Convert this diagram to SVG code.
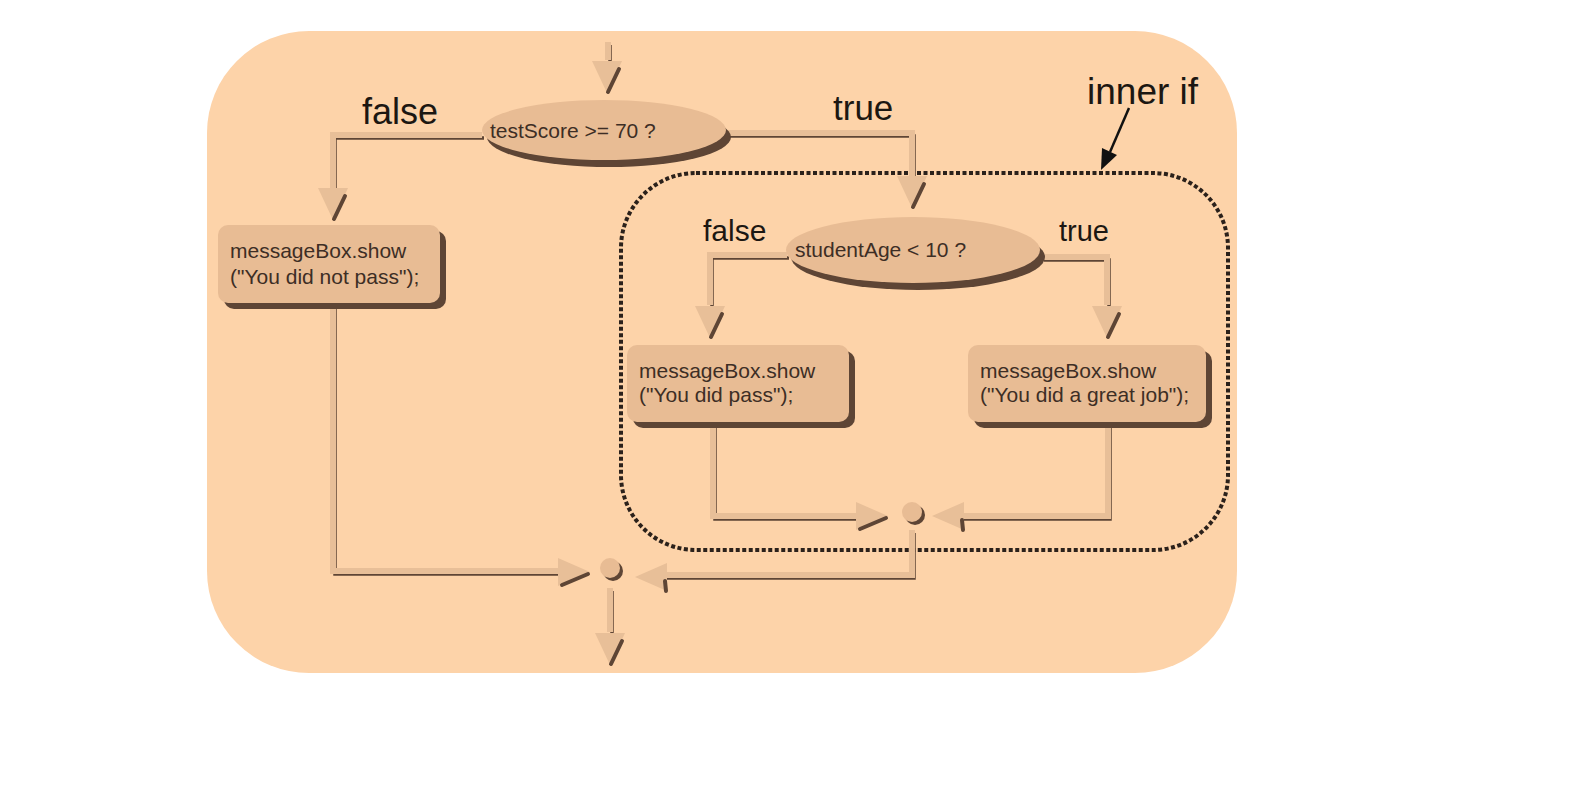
<svg xmlns="http://www.w3.org/2000/svg" xmlns:xlink="http://www.w3.org/1999/xlink" width="1573" height="788" viewBox="0 0 1573 788">
<style>
.lt{fill:none;stroke:#E8BF98;stroke-width:6}
.dk{fill:none;stroke:#5E4535;stroke-width:3.5}
.node{fill:#E8BC94}
.shd{fill:#5E4535}
.code{font-family:"Liberation Sans",Arial,sans-serif;font-size:21px;fill:#3d2e25}
.lbl{font-family:"Liberation Sans",Arial,sans-serif;fill:#1c1712}
.ahl{fill:#E8BF98}
.ahd{fill:none;stroke:#5E4535;stroke-width:4;stroke-linecap:round}
</style>
<defs>
<g id="ad"><polygon class="ahl" points="-15,-32 15,-32 0,0"/><line class="ahd" x1="12" y1="-24" x2="1" y2="-1"/></g>
<g id="ar"><polygon class="ahl" points="-32,-14 -32,14 0,0"/><line class="ahd" x1="-28" y1="13" x2="-2" y2="2"/></g>
<g id="al"><polygon class="ahl" points="32,-14 32,14 0,0"/><line class="ahd" x1="30" y1="4" x2="31" y2="14"/></g>
</defs>
<rect x="0" y="0" width="1573" height="788" fill="#ffffff"/>
<rect x="207" y="31" width="1030" height="642" rx="102" fill="#FDD3A9"/>
<g id="inner-if">
<rect x="621" y="173" width="607" height="377" rx="75" fill="none" stroke="#2b211b" stroke-width="4" stroke-dasharray="4 2.5"/>
</g>
<g id="connectors">
<g transform="translate(2,3)">
<path class="dk" d="M608 42 V60"/>
<path class="dk" d="M482 135 H333 V190"/>
<path class="dk" d="M727 133 H912 V178"/>
<path class="dk" d="M333 305 V571 H560"/>
<path class="dk" d="M787 255 H710 V305"/>
<path class="dk" d="M1042 257 H1107 V305"/>
<path class="dk" d="M713 422 V516 H858"/>
<path class="dk" d="M1108 422 V516 H962"/>
<path class="dk" d="M912 530 V575 H665"/>
<path class="dk" d="M610 588 V632"/>
</g>
<path class="lt" d="M608 42 V60"/>
<path class="lt" d="M482 135 H333 V190"/>
<path class="lt" d="M727 133 H912 V178"/>
<path class="lt" d="M333 305 V571 H560"/>
<path class="lt" d="M787 255 H710 V305"/>
<path class="lt" d="M1042 257 H1107 V305"/>
<path class="lt" d="M713 422 V516 H858"/>
<path class="lt" d="M1108 422 V516 H962"/>
<path class="lt" d="M912 530 V575 H665"/>
<path class="lt" d="M610 588 V632"/>
<use xlink:href="#ad" x="607" y="93"/>
<use xlink:href="#ad" x="333" y="220"/>
<use xlink:href="#ad" x="912" y="208"/>
<use xlink:href="#ad" x="710" y="338"/>
<use xlink:href="#ad" x="1107" y="338"/>
<use xlink:href="#ad" x="610" y="665"/>
<use xlink:href="#ar" x="590" y="572"/>
<use xlink:href="#ar" x="888" y="516"/>
<use xlink:href="#al" x="932" y="516"/>
<use xlink:href="#al" x="635" y="577"/>
<line x1="1129" y1="108" x2="1110" y2="152" stroke="#111" stroke-width="2.5"/>
<polygon points="1101,170 1102,148 1117,155" fill="#111"/>
</g>
<g id="merge-outer"><circle cx="613" cy="571" r="10" class="shd"/><circle cx="610" cy="568" r="10" class="node"/></g>
<g id="merge-inner"><circle cx="915" cy="515" r="10" class="shd"/><circle cx="912" cy="512" r="10" class="node"/></g>
<g id="dec-outer">
<ellipse cx="609" cy="137" rx="122" ry="30" class="shd"/>
<ellipse cx="604" cy="130" rx="122" ry="30" class="node"/>
<text x="490" y="138" class="code">testScore &gt;= 70 ?</text>
</g>
<g id="dec-inner">
<ellipse cx="918" cy="257" rx="127" ry="33" class="shd"/>
<ellipse cx="913" cy="250" rx="127" ry="33" class="node"/>
<text x="795" y="257" class="code">studentAge &lt; 10 ?</text>
</g>
<g id="box-notpass">
<rect x="224" y="231" width="222" height="78" rx="10" class="shd"/>
<rect x="218" y="225" width="222" height="78" rx="10" class="node"/>
<text x="230" y="258" class="code">messageBox.show</text>
<text x="230" y="284" class="code">("You did not pass");</text>
</g>
<g id="box-pass">
<rect x="633" y="351" width="222" height="77" rx="10" class="shd"/>
<rect x="627" y="345" width="222" height="77" rx="10" class="node"/>
<text x="639" y="378" class="code">messageBox.show</text>
<text x="639" y="402" class="code">("You did pass");</text>
</g>
<g id="box-great">
<rect x="974" y="351" width="238" height="77" rx="10" class="shd"/>
<rect x="968" y="345" width="238" height="77" rx="10" class="node"/>
<text x="980" y="378" class="code">messageBox.show</text>
<text x="980" y="402" class="code">("You did a great job");</text>
</g>
<g id="labels">
<text x="362" y="124" class="lbl" font-size="36">false</text>
<text x="833" y="120" class="lbl" font-size="35">true</text>
<text x="1087" y="104" class="lbl" font-size="37">inner if</text>
<text x="703" y="241" class="lbl" font-size="30">false</text>
<text x="1059" y="241" class="lbl" font-size="29">true</text>
</g>
</svg>
